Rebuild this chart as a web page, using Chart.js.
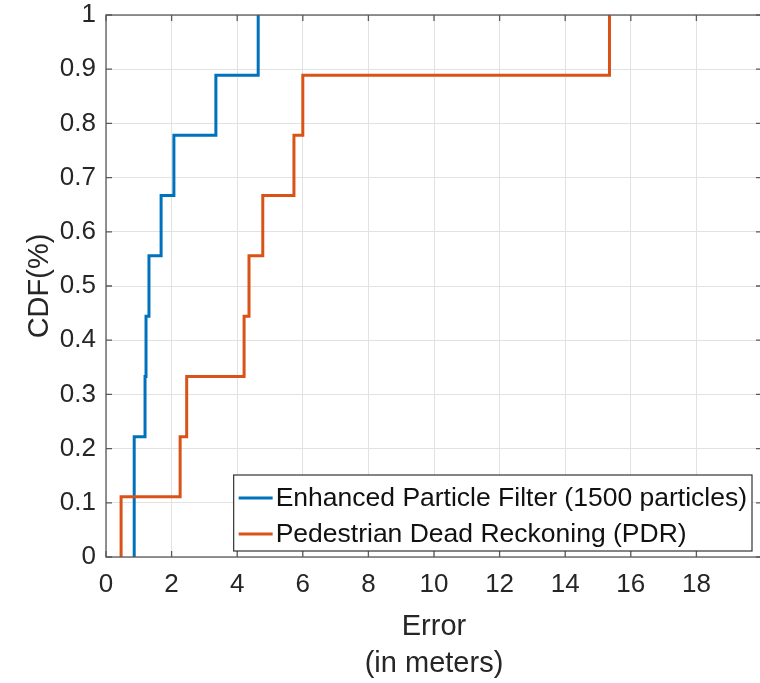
<!DOCTYPE html>
<html>
<head>
<meta charset="utf-8">
<script src="https://cdn.jsdelivr.net/npm/chart.js@4"></script>
<style>
  html, body { margin: 0; padding: 0; background: #fff; overflow: hidden; }
  canvas { display: block; }
</style>
</head>
<body>
<canvas id="cdfChart" width="764" height="683"></canvas>
<script>
// CDF levels (9 samples per method)
const cdfLevels = [0, 0.111, 0.222, 0.333, 0.444, 0.556, 0.667, 0.778, 0.889, 1];
// error (m) at which each CDF level is reached
const pfErrors  = [0.86, 0.86, 0.86, 1.19, 1.22, 1.31, 1.68, 2.07, 3.35, 4.64];
const pdrErrors = [0.46, 0.46, 2.26, 2.46, 4.21, 4.36, 4.78, 5.73, 6.0, 15.35];

const seriesLabels = ["Enhanced Particle Filter (1500 particles)", "Pedestrian Dead Reckoning (PDR)"];
const seriesColors = ["#0072BD", "#D95319"];

const toPoints = (xs) => xs.map((v, i) => ({ x: v, y: cdfLevels[i] }));

const FONT = "'Liberation Sans', Arial, sans-serif";
const TEXT = "#262626";

// no extra room for edge labels, the axes box is placed by hand
function noEdgePad(s) {
  s.paddingTop = 0; s.paddingBottom = 0;
  s.paddingLeft = 0; s.paddingRight = 0;
}

// matlab style box with inward ticks on all four sides
const axesBox = {
  id: "axesBox",
  afterDatasetsDraw(chart) {
    const { ctx, chartArea: a, scales: { x, y } } = chart;
    ctx.save();
    ctx.strokeStyle = "#5a5a5a";
    ctx.lineWidth = 1.3;
    ctx.beginPath();
    x.ticks.forEach(t => {
      const px = x.getPixelForValue(t.value);
      ctx.moveTo(px, a.bottom); ctx.lineTo(px, a.bottom - 6);
      ctx.moveTo(px, a.top); ctx.lineTo(px, a.top + 6);
    });
    y.ticks.forEach(t => {
      const py = y.getPixelForValue(t.value);
      ctx.moveTo(a.left, py); ctx.lineTo(a.left + 6, py);
      ctx.moveTo(a.right, py); ctx.lineTo(a.right - 6, py);
    });
    ctx.stroke();
    ctx.strokeRect(a.left, a.top, a.right - a.left, a.bottom - a.top);
    ctx.restore();
  }
};

// legend box in the lower right corner of the axes
const boxLegend = {
  id: "boxLegend",
  afterDraw(chart) {
    const { ctx, chartArea: a } = chart;
    const sets = chart.data.datasets;
    ctx.save();
    ctx.font = "26.5px " + FONT;
    const textW = Math.max(...sets.map(d => ctx.measureText(d.label).width));
    const rowH = 36;
    const w = 5 + 34 + 3 + textW + 5;
    const h = sets.length * rowH + 4;
    const right = a.right - 10;
    const bottom = a.bottom - 6;
    const left = right - w, top = bottom - h;
    ctx.fillStyle = "#fff";
    ctx.fillRect(left, top, w, h);
    ctx.strokeStyle = "#333";
    ctx.lineWidth = 1.2;
    ctx.strokeRect(left, top, w, h);
    sets.forEach((d, i) => {
      const cy = top + 4 + rowH * i + rowH / 2 + 1;
      ctx.strokeStyle = d.borderColor;
      ctx.lineWidth = 3;
      ctx.beginPath();
      ctx.moveTo(left + 5, cy);
      ctx.lineTo(left + 39, cy);
      ctx.stroke();
      ctx.fillStyle = "#111";
      ctx.textBaseline = "middle";
      ctx.fillText(d.label, left + 42, cy + 1);
    });
    ctx.restore();
  }
};

new Chart(document.getElementById("cdfChart"), {
  type: "line",
  data: {
    datasets: [
      {
        label: seriesLabels[0],
        data: toPoints(pfErrors),
        borderColor: seriesColors[0],
        borderWidth: 3,
        stepped: "before",
        pointRadius: 0,
        fill: false,
        clip: 6,
        order: 1
      },
      {
        label: seriesLabels[1],
        data: toPoints(pdrErrors),
        borderColor: seriesColors[1],
        borderWidth: 3,
        stepped: "before",
        pointRadius: 0,
        fill: false,
        clip: 6,
        order: 0
      }
    ]
  },
  options: {
    responsive: false,
    animation: false,
    devicePixelRatio: 1,
    layout: { padding: { top: 15, right: 2, left: 0, bottom: 0 } },
    plugins: { legend: { display: false }, tooltip: { enabled: false } },
    scales: {
      x: {
        type: "linear",
        min: 0,
        max: 20,
        afterFit: (s) => { s.height = 126; noEdgePad(s); },
        grid: { color: "#e2e2e2", lineWidth: 1, drawTicks: false },
        border: { display: false },
        ticks: {
          stepSize: 2,
          autoSkip: false,
          maxRotation: 0,
          padding: 12,
          color: TEXT,
          font: { family: FONT, size: 26 },
          callback: (v) => (v >= 20 ? "" : v)
        },
        title: {
          display: true,
          text: ["Error", "(in meters)"],
          color: TEXT,
          font: { family: FONT, size: 29, lineHeight: "37px" },
          padding: { top: 0, bottom: 1 }
        }
      },
      y: {
        min: 0,
        max: 1,
        afterFit: (s) => { s.width = 106; noEdgePad(s); },
        grid: { color: "#e2e2e2", lineWidth: 1, drawTicks: false },
        border: { display: false },
        ticks: {
          stepSize: 0.1,
          padding: 10,
          color: TEXT,
          font: { family: FONT, size: 26 },
          callback: (v) => String(Number(v.toFixed(1)))
        },
        title: {
          display: true,
          text: "CDF(%)",
          color: TEXT,
          font: { family: FONT, size: 29, lineHeight: "34px" },
          padding: { top: 23, bottom: 0 }
        }
      }
    }
  },
  plugins: [axesBox, boxLegend]
});
</script>
</body>
</html>
